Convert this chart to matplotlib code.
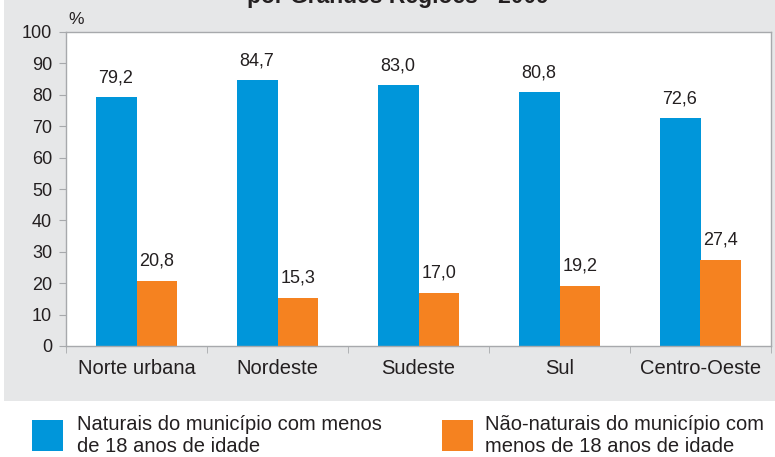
import matplotlib.pyplot as plt
from matplotlib.patches import Rectangle
import numpy as np

regioes = ['Norte urbana', 'Nordeste', 'Sudeste', 'Sul', 'Centro-Oeste']
naturais = [79.2, 84.7, 83.0, 80.8, 72.6]
nao_naturais = [20.8, 15.3, 17.0, 19.2, 27.4]
legenda = ['Naturais do município com menos\nde 18 anos de idade',
           'Não-naturais do município com\nmenos de 18 anos de idade']
titulo = 'por Grandes Regiões - 2009'

azul = '#0096da'
laranja = '#f58220'
cinza = '#e6e7e8'
plt.rcParams['font.family'] = ['Liberation Sans', 'DejaVu Sans']

fig = plt.figure(figsize=(7.75, 4.57), dpi=100)
fig.patches.append(Rectangle((4/775, 56/457), 1, 1, transform=fig.transFigure,
                             facecolor=cinza, edgecolor='none', zorder=-10))
fig.text(398/775, 1 - 3/457, titulo, ha='center', va='baseline',
         fontsize=16.5, fontweight='bold', color='#231f20')

ax = fig.add_axes([66/775, 1 - 346/457, 705/775, 314/457])
ax.set_facecolor('white')
x = np.arange(len(regioes))
w = 0.29
ax.bar(x - w/2, naturais, w, color=azul, zorder=2)
ax.bar(x + w/2, nao_naturais, w, color=laranja, zorder=2)

for xi, v in zip(x - w/2, naturais):
    ax.text(xi, v + 3.5, f'{v:.1f}'.replace('.', ','), ha='center', va='bottom',
            fontsize=13, color='#231f20')
for xi, v in zip(x + w/2, nao_naturais):
    ax.text(xi, v + 3.5, f'{v:.1f}'.replace('.', ','), ha='center', va='bottom',
            fontsize=13, color='#231f20')

ax.set_xlim(-0.5, len(regioes) - 0.5)
ax.set_ylim(0, 100)
ax.set_yticks(range(0, 101, 10))
ax.set_xticks(x)
ax.set_xticklabels(regioes, fontsize=14.5, color='#231f20')
ax.set_xticks(np.arange(-0.5, len(regioes)), minor=True)
ax.tick_params(axis='x', which='major', length=0, pad=9)
ax.tick_params(axis='x', which='minor', length=5, color='#a7a9ac', direction='out')
ax.tick_params(axis='y', length=5, color='#a7a9ac', labelsize=13,
               labelcolor='#231f20', pad=5)
for s in ax.spines.values():
    s.set_color('#a7a9ac')
    s.set_linewidth(1)
ax.text(-0.48, 101.5, '%', ha='left', va='bottom', fontsize=12.5, color='#231f20')

fig.patches.append(Rectangle((32/775, 1 - 451/457), 31/775, 31/457,
                             transform=fig.transFigure, facecolor=azul, edgecolor='none'))
fig.patches.append(Rectangle((442/775, 1 - 451/457), 31/775, 31/457,
                             transform=fig.transFigure, facecolor=laranja, edgecolor='none'))
fig.text(77/775, 1 - 436/457, legenda[0], ha='left', va='center', fontsize=14.5,
         color='#231f20', linespacing=1.2)
fig.text(485/775, 1 - 436/457, legenda[1], ha='left', va='center', fontsize=14.5,
         color='#231f20', linespacing=1.2)

fig.savefig('out.png', dpi=100)
